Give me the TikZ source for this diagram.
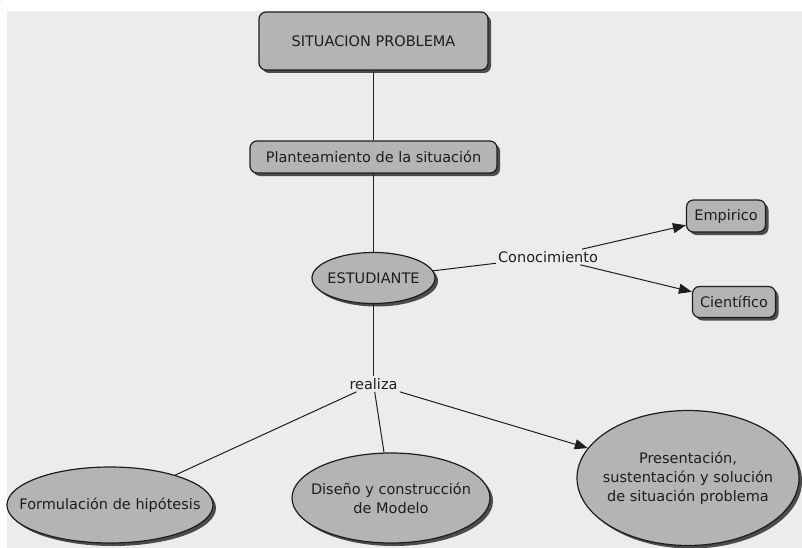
\documentclass[tikz,border=0pt]{standalone}
\usepackage{fontspec}
\setmainfont{DejaVu Sans}
\usepackage{xcolor}
\usetikzlibrary{arrows.meta,shapes.geometric,shadows}
\definecolor{canvas}{HTML}{ECECEC}
\definecolor{conceptfill}{HTML}{B4B4B4}
\definecolor{ink}{HTML}{1E1E1E}

\begin{document}
\begin{tikzpicture}[
  x=1pt,y=-1pt,
  font=\fontsize{14.5}{19}\selectfont,
  text=ink,
  concept/.style={draw=ink,line width=1.2pt,fill=conceptfill,
    drop shadow={shadow xshift=3pt,shadow yshift=-3pt,fill=black!70,opacity=1}},
  box/.style={concept,rectangle,rounded corners=7pt,inner sep=0pt},
  oval/.style={concept,ellipse,inner xsep=-60pt,inner ysep=0pt,align=center},
  phrase/.style={inner sep=2pt},
  link/.style={draw=ink,line width=1pt},
  flow/.style={link,-{Triangle[length=13pt,width=10pt]}}
]
\path[use as bounding box] (0,0) rectangle (802,548);
\clip (0,0) rectangle (802,548);
\fill[white] (0,0) rectangle (802,548);
\fill[canvas] (7,11) rectangle (802,548);
\fill[black!70] (-12,-18) circle[radius=22pt];
\node[box,minimum width=229pt,minimum height=58pt] (situacion) at (373.5,41) {SITUACION PROBLEMA};
\node[box,minimum width=247pt,minimum height=32pt] (planteamiento) at (373.5,157) {Planteamiento de la situación};
\node[oval,minimum width=123pt,minimum height=51pt] (estudiante) at (373.5,278) {ESTUDIANTE};
\node[phrase] (conocimiento) at (548,257) {Conocimiento};
\node[box,minimum width=79pt,minimum height=32pt] (empirico) at (726,216) {Empirico};
\node[box,minimum width=83pt,minimum height=31pt] (cientifico) at (734,302) {Científico};
\node[phrase] (realiza) at (373.5,384) {realiza};
\node[oval,minimum width=206pt,minimum height=76pt] (hipotesis) at (110,505) {Formulación de hipótesis};
\node[oval,minimum width=198pt,minimum height=90pt] (modelo) at (391,498) {Diseño y construcción\\de Modelo};
\node[oval,minimum width=222pt,minimum height=135pt] (presentacion) at (688,478) {Presentación,\\sustentación y solución\\de situación problema};
\draw[link] (situacion) -- (planteamiento);
\draw[link] (planteamiento) -- (estudiante);
\draw[link] (estudiante) -- (conocimiento);
\draw[flow] (conocimiento) -- (empirico);
\draw[flow] (conocimiento) -- (cientifico);
\draw[link] (estudiante) -- (realiza);
\draw[link] (realiza) -- (hipotesis);
\draw[link] (realiza) -- (modelo);
\draw[flow] (realiza) -- (presentacion);
\end{tikzpicture}
\end{document}
